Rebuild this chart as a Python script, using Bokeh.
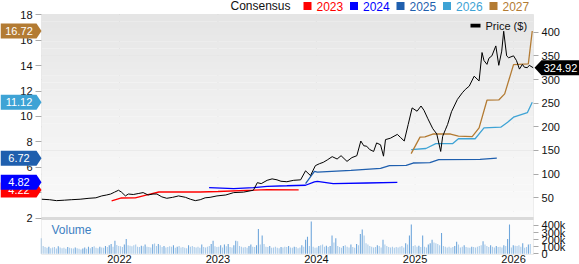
from datetime import datetime
import pandas as pd
from bokeh.plotting import figure
from bokeh.models import (Range1d, LinearAxis, DatetimeAxis, FixedTicker, BoxAnnotation, Label,
                          PolyAnnotation, CustomJSTickFormatter, DatetimeTickFormatter)
from bokeh.embed import file_html
from bokeh.resources import INLINE

# ---------------- data ----------------
price_t = [2021.21, 2021.29, 2021.36, 2021.44, 2021.51, 2021.60, 2021.69, 2021.76, 2021.82, 2021.87,
           2021.91, 2021.95, 2021.99, 2022.02, 2022.06, 2022.09, 2022.14, 2022.19, 2022.24, 2022.29,
           2022.34, 2022.38, 2022.43, 2022.48, 2022.54, 2022.60, 2022.67, 2022.72, 2022.77, 2022.82,
           2022.87, 2022.92, 2022.99, 2023.08, 2023.16, 2023.26, 2023.36, 2023.40, 2023.44, 2023.50,
           2023.55, 2023.60, 2023.64, 2023.70, 2023.77, 2023.84, 2023.89, 2023.94, 2023.99, 2024.03,
           2024.07, 2024.11, 2024.16, 2024.21, 2024.25, 2024.31, 2024.36, 2024.41, 2024.45, 2024.48,
           2024.51, 2024.54, 2024.58, 2024.61, 2024.65, 2024.68, 2024.70, 2024.75, 2024.82, 2024.85,
           2024.89, 2024.93, 2024.97, 2025.02, 2025.06, 2025.09, 2025.13, 2025.18, 2025.22, 2025.26,
           2025.28, 2025.31, 2025.33, 2025.37, 2025.43, 2025.48, 2025.51, 2025.55, 2025.60, 2025.65,
           2025.68, 2025.70, 2025.73, 2025.75, 2025.78, 2025.82, 2025.85, 2025.88, 2025.90, 2025.93,
           2025.95, 2026.00, 2026.03, 2026.06, 2026.09, 2026.11, 2026.14, 2026.16, 2026.20]
price_v = [47, 46, 44, 45, 46, 47, 49, 50, 54, 56,
           58, 62, 66, 62, 54, 58, 57, 59, 61, 56,
           58, 58, 52, 49, 51, 54, 51, 47, 44, 46,
           50, 51, 54, 56, 61, 62, 66, 82, 80, 87,
           90, 88, 85, 84, 87, 88, 107, 97, 118, 122,
           125, 130, 137, 132, 139, 127, 135, 139, 170, 160,
           159, 152, 148, 166, 162, 138, 173, 176, 184, 178,
           170, 205, 240, 233, 244, 235, 217, 196, 185, 148,
           180, 195, 205, 232, 258, 272, 279, 286, 307, 297,
           357, 340, 332, 345, 350, 371, 330, 360, 402, 350,
           346, 350, 340, 322, 332, 326, 325, 330, 324.92]

eps23_t = [2021.92, 2022.02, 2022.16, 2022.29, 2022.40, 2022.82, 2023.00, 2023.37, 2023.50, 2023.82]
eps23_v = [3.36, 3.59, 3.60, 3.86, 4.06, 4.06, 4.10, 4.20, 4.24, 4.22]
eps24_t = [2022.91, 2023.16, 2023.36, 2023.50, 2023.70, 2023.89, 2023.98, 2024.01, 2024.17, 2024.51, 2024.82]
eps24_v = [4.41, 4.33, 4.40, 4.51, 4.55, 4.59, 4.85, 4.90, 4.72, 4.77, 4.82]
eps25_t = [2023.89, 2023.98, 2024.01, 2024.35, 2024.65, 2024.74, 2024.91, 2024.98, 2025.15, 2025.24, 2025.66, 2025.83]
eps25_v = [4.72, 5.69, 5.63, 5.76, 5.92, 6.14, 6.16, 6.34, 6.37, 6.60, 6.63, 6.72]
eps26_t = [2024.96, 2025.11, 2025.21, 2025.38, 2025.44, 2025.61, 2025.70, 2025.87, 2025.94, 2026.00, 2026.14, 2026.19]
eps26_v = [7.40, 7.48, 7.86, 7.86, 8.25, 8.25, 9.10, 9.16, 9.55, 9.94, 10.30, 11.12]
eps27_t = [2024.96, 2025.05, 2025.10, 2025.18, 2025.36, 2025.44, 2025.58, 2025.65, 2025.73, 2025.85, 2025.91, 2026.00, 2026.15, 2026.19]
eps27_v = [7.08, 8.38, 8.40, 8.62, 8.62, 8.45, 8.42, 9.10, 11.28, 11.30, 11.78, 14.08, 14.13, 16.72]

vol_start = "2021-03-17"
vol_k = [220, 110, 95, 85, 100, 80, 90, 95, 75, 105, 90, 80, 85,
         70, 95, 85, 80, 75, 90, 80, 70, 60, 75, 90, 70, 100,
         80, 95, 105, 85, 80, 100, 90, 85, 110, 95, 120, 140, 100,
         186, 125, 110, 105, 95, 130, 210, 120, 115, 105, 120, 130, 100,
         95, 115, 105, 130, 100, 95, 90, 135, 145, 110, 140, 120, 95,
         110, 90, 95, 105, 100, 120, 85, 100, 110, 90, 95, 85, 80,
         120, 100, 110, 95, 90, 100, 85, 130, 95, 90, 100, 110, 140,
         186, 105, 95, 100, 120, 90, 130, 105, 140, 95, 90, 120, 186,
         176, 110, 100, 90, 95, 85, 110, 130, 100, 95, 120, 352, 130,
         257, 140, 100, 95, 110, 85, 90, 100, 85, 80, 95, 90, 100,
         95, 110, 90, 85, 100, 95, 80, 90, 120, 100, 200, 240, 110,
         457, 100, 85, 90, 110, 120, 130, 100, 115, 95, 110, 257, 160,
         220, 110, 95, 85, 110, 120, 100, 90, 130, 95, 85, 140, 120,
         280, 343, 260, 150, 130, 110, 100, 90, 95, 120, 110, 90, 200,
         130, 110, 95, 90, 100, 85, 95, 90, 100, 110, 90, 150, 130,
         257, 414, 110, 120, 100, 115, 95, 257, 100, 90, 130, 150, 200,
         160, 150, 140, 120, 295, 110, 100, 90, 100, 85, 95, 110, 170,
         130, 90, 100, 120, 95, 90, 85, 100, 95, 90, 100, 110, 120,
         176, 130, 110, 95, 120, 100, 90, 110, 95, 100, 90, 120, 110,
         210, 414, 90, 120, 115, 110, 120, 100, 150, 85, 95, 130, 140]

price_ticks = [50, 100, 150, 200, 250, 300, 350, 400]
eps_ticks = [2, 4, 6, 8, 10, 12, 14, 16, 18]
vol_ticks = [0, 100, 200, 300, 400]
year_ticks = [2022, 2023, 2024, 2025, 2026]
series_names = ["2023", "2024", "2025", "2026", "2027"]
series_colors = ["#ff0000", "#0000ff", "#1f5fae", "#3ea3d5", "#b37b33"]

# ---------------- layout (canvas px) ----------------
W, H = 579, 264
L, T, R, B = 41, 14, 533, 254          # plot area inside the canvas
SEP = 218                              # price / volume panel boundary
X_L, X_R = 2021.208, 2026.203          # decimal years at L and R
PRICE_LO, PRICE_HI = -69.8, 437.4      # price at B and T
EPS_LO, EPS_HI = -0.855, 18.02
VOL_LO, VOL_HI = -10, 3382
FONT = "Liberation Sans"


def dy(y):
    yr = int(y)
    a, b = datetime(yr, 1, 1), datetime(yr + 1, 1, 1)
    return a + (b - a) * (y - yr)


def ms(d):
    return pd.Timestamp(d).value / 1e6


def xat(cx):
    return dy(X_L + (cx - L) / (R - L) * (X_R - X_L))


def at(cy, lo, hi):
    return hi - (cy - T) / (B - T) * (hi - lo)


def pat(cy):
    return at(cy, PRICE_LO, PRICE_HI)


def eps_to_price(v):
    return PRICE_LO + (v - EPS_LO) / (EPS_HI - EPS_LO) * (PRICE_HI - PRICE_LO)


p = figure(width=W, height=H, x_axis_location=None, y_axis_location=None,
           x_range=Range1d(xat(0), xat(W)), y_range=Range1d(pat(H), pat(0)),
           output_backend="svg", toolbar_location=None,
           min_border=0, min_border_left=0, min_border_right=0, min_border_top=0, min_border_bottom=0)
p.extra_y_ranges = {"eps": Range1d(at(H, EPS_LO, EPS_HI), at(0, EPS_LO, EPS_HI)),
                    "vol": Range1d(at(H, VOL_LO, VOL_HI), at(0, VOL_LO, VOL_HI))}
p.background_fill_color = "white"
p.border_fill_color = "white"
p.outline_line_color = None
p.grid.visible = False

XL, XR = xat(L), xat(R)

# gradient background of price panel
N = 30
for i in range(N):
    t0 = pat(T + (SEP - T) * i / N)
    t1 = pat(T + (SEP - T) * (i + 1) / N)
    g = int(round(228 + 22 * ((i + 0.5) / N) ** 0.8))
    p.add_layout(BoxAnnotation(left=XL, right=XR, top=t0, bottom=t1, fill_color=(g, g, g),
                               fill_alpha=1, line_color=None, level="underlay"))
p.add_layout(BoxAnnotation(left=XL, right=XR, top=pat(SEP), bottom=pat(B), fill_color="#fcfcfc",
                           fill_alpha=1, line_color=None, level="underlay"))

# grid lines
year_dates = [datetime(y, 1, 1) for y in year_ticks]
p.segment(x0=year_dates, x1=year_dates, y0=[pat(B)] * len(year_dates), y1=[pat(T)] * len(year_dates),
          line_color="#cccccc", line_width=1, level="underlay")
p.segment(x0=[XL] * len(price_ticks), x1=[XR] * len(price_ticks), y0=price_ticks, y1=price_ticks,
          line_color="#cccccc", line_width=1, level="underlay")

# separator band
p.add_layout(BoxAnnotation(left=XL, right=XR, top=pat(SEP - 1.5), bottom=pat(SEP + 1.5),
                           fill_color="#dadada", fill_alpha=1, line_color=None, level="underlay"))

# x axis
xa = DatetimeAxis(fixed_location=pat(B))
xa.ticker = FixedTicker(ticks=[ms(d) for d in year_dates])
xa.formatter = DatetimeTickFormatter(years="%Y", months="%Y", days="%Y", hours="%Y")
xa.axis_line_color = None
xa.major_tick_out = 0
xa.major_tick_in = 0
xa.minor_tick_line_color = None
xa.major_label_standoff = 0
xa.major_label_text_font = FONT
xa.major_label_text_font_size = "11px"
xa.major_label_text_color = "#111111"
p.add_layout(xa, "below")


# right axis: price + volume labels
def vpos(v):
    return PRICE_LO + (v - VOL_LO) / (VOL_HI - VOL_LO) * (PRICE_HI - PRICE_LO)


ra = LinearAxis(fixed_location=ms(XR))
ra.ticker = FixedTicker(ticks=price_ticks + [vpos(v) for v in vol_ticks])
ra.formatter = CustomJSTickFormatter(args=dict(plo=PRICE_LO, phi=PRICE_HI, vlo=VOL_LO, vhi=VOL_HI), code="""
if (tick > 25) return tick.toFixed(0);
const v = vlo + (tick - plo) / (phi - plo) * (vhi - vlo);
const r = Math.round(v / 100) * 100;
return r <= 0 ? "0" : r + "k";
""")
ra.axis_line_color = None
ra.major_tick_line_color = "#aaaaaa"
ra.major_tick_out = 5
ra.major_tick_in = 0
ra.minor_tick_line_color = None
ra.major_label_standoff = 3
ra.major_label_text_font = FONT
ra.major_label_text_font_size = "11px"
ra.major_label_text_color = "#111111"
p.add_layout(ra, "right")

# left axis: EPS
la = LinearAxis(y_range_name="eps", fixed_location=ms(XL), ticker=FixedTicker(ticks=eps_ticks))
la.axis_line_color = None
la.major_tick_line_color = "#aaaaaa"
la.major_tick_out = 6
la.major_tick_in = 0
la.minor_tick_line_color = None
la.major_label_standoff = 3
la.major_label_text_font = FONT
la.major_label_text_font_size = "11px"
la.major_label_text_color = "#111111"
p.add_layout(la, "left")

# volume
vol_dates = pd.date_range(vol_start, periods=len(vol_k), freq="7D")
vol_cols = ["#6ea6db" if (i > 0 and v > vol_k[i - 1] * 1.15) else "#a9cbea" for i, v in enumerate(vol_k)]
p.vbar(x=vol_dates, top=vol_k, bottom=0, width=4 * 24 * 3600 * 1000, y_range_name="vol",
       fill_color=vol_cols, line_color=None)

# EPS lines
eps_series = [(eps23_t, eps23_v), (eps24_t, eps24_v), (eps25_t, eps25_v), (eps26_t, eps26_v), (eps27_t, eps27_v)]
for (tt, vv), c in zip(eps_series, series_colors):
    p.line([dy(t) for t in tt], vv, y_range_name="eps", line_color=c, line_width=1.3)

# price line
p.line([dy(t) for t in price_t], price_v, line_color="#000000", line_width=1)

# plot-area outline
p.add_layout(BoxAnnotation(left=XL, right=XR, top=pat(T), bottom=pat(B), fill_alpha=0,
                           line_color="#c8c8c8", line_width=1))

# left value flags (drawn in price units, converted from EPS)
ph = 7.5 * (PRICE_HI - PRICE_LO) / (B - T)
for (tt, vv), c in zip(eps_series, series_colors):
    v = vv[-1]
    yv = eps_to_price(v)
    p.add_layout(PolyAnnotation(xs=[0, 36, 41, 36, 0], ys=[yv + ph, yv + ph, yv, yv - ph, yv - ph],
                                xs_units="screen", ys_units="data",
                                fill_color=c, fill_alpha=1, line_color=None))
    p.add_layout(Label(x=18.5, y=yv, x_units="screen", text=f"{v:.2f}",
                       text_align="center", text_baseline="middle", text_color="white",
                       text_font=FONT, text_font_size="11px"))

# price flag
pv = price_v[-1]
p.add_layout(PolyAnnotation(xs=[534, 541, 579, 579, 541], ys=[pv, pv + ph, pv + ph, pv - ph, pv - ph],
                            xs_units="screen", ys_units="data",
                            fill_color="black", fill_alpha=1, line_color=None))
p.add_layout(Label(x=560, y=pv, x_units="screen", text=f"{pv:.2f}", text_align="center",
                   text_baseline="middle", text_color="white", text_font=FONT, text_font_size="11px"))

# top legend
ly = pat(5.5)
sq_t, sq_b = pat(1.5), pat(9.5)
p.add_layout(Label(x=230, y=ly, x_units="screen", text="Consensus", text_baseline="middle",
                   text_color="#111111", text_font=FONT, text_font_size="12px"))
for k, (name, c) in enumerate(zip(series_names, series_colors)):
    x0 = 303 + k * 46.5
    p.add_layout(PolyAnnotation(xs=[x0, x0 + 8, x0 + 8, x0], ys=[sq_t, sq_t, sq_b, sq_b],
                                xs_units="screen", ys_units="data", fill_color=c, fill_alpha=1,
                                line_color=None))
    p.add_layout(Label(x=x0 + 13, y=ly, x_units="screen", text=name, text_baseline="middle",
                       text_color=c, text_font=FONT, text_font_size="12px"))

# price legend
p.add_layout(PolyAnnotation(xs=[470, 480, 480, 470], ys=[pat(23.3), pat(23.3), pat(27), pat(27)],
                            xs_units="screen", ys_units="data", fill_color="black", fill_alpha=1,
                            line_color=None))
p.add_layout(Label(x=485, y=pat(25.3), x_units="screen", text="Price ($)",
                   text_baseline="middle", text_color="#111111", text_font=FONT, text_font_size="11px"))

# volume label
p.add_layout(Label(x=51, y=at(229, VOL_LO, VOL_HI), x_units="screen", y_range_name="vol",
                   text="Volume", text_baseline="middle", text_color="#3d80c2",
                   text_font=FONT, text_font_size="12px"))

open("out.html", "w").write(file_html(p, INLINE))
